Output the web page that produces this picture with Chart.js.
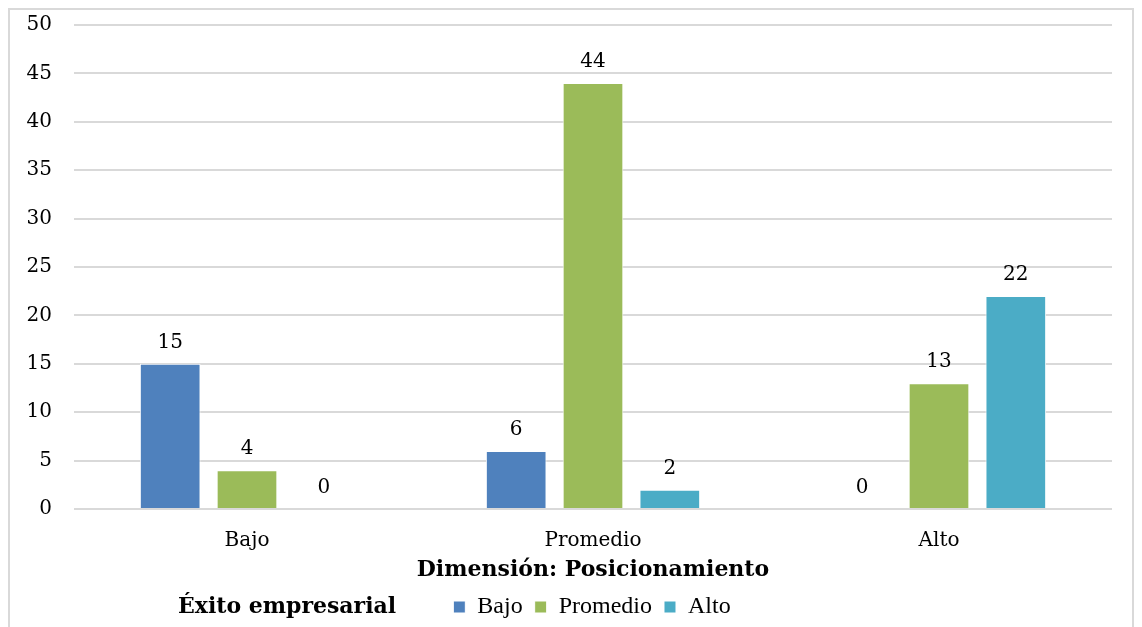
<!DOCTYPE html>
<html><head><meta charset="utf-8">
<script src="https://cdn.jsdelivr.net/npm/chart.js@4/dist/chart.umd.min.js"></script>
<style>
html,body{margin:0;padding:0;background:#fff;overflow:hidden;width:1142px;height:627px}
#box{position:absolute;left:8px;top:8px;width:1126px;height:660px;border:2px solid #d9d9d9;box-sizing:border-box;background:#fff}
#c{display:block;margin-top:-19px}
</style></head><body>
<div id="box"><canvas id="c" width="1122" height="638"></canvas></div>
<script>
const categories = ["Bajo","Promedio","Alto"];
const seriesNames = ["Bajo","Promedio","Alto"];
const bajoValues = [15,6,0];
const promedioValues = [4,44,13];
const altoValues = [0,2,22];
const yTicks = [0,5,10,15,20,25,30,35,40,45,50];
const colors = ["#4f81bd","#9bbb59","#4bacc6"];
const xTitle = "Dimensión: Posicionamiento";
const legendTitle = "Éxito empresarial";

const serif = "'DejaVu Serif', serif";
const times = "'Liberation Serif', serif";

const labelsPlugin = {
  id:'vals',
  afterDatasetsDraw(chart){
    const ctx = chart.ctx;
    ctx.save();
    ctx.font = "20px " + serif;
    ctx.fillStyle = "#000";
    ctx.textAlign = "center";
    ctx.textBaseline = "alphabetic";
    chart.data.datasets.forEach((ds,i)=>{
      chart.getDatasetMeta(i).data.forEach((el,j)=>{
        ctx.fillText(String(ds.data[j]), el.x, el.y - 16);
      });
    });
    ctx.restore();
  }
};
const legendShift = 31;
const legendTitlePlugin = {
  id:'ltitle',
  afterLayout(chart){
    const lg = chart.legend;
    if(lg){ lg.left += legendShift; lg.right += legendShift; }
  },
  afterDraw(chart){
    const lg = chart.legend;
    if(!lg || !lg.legendHitBoxes || !lg.legendHitBoxes.length) return;
    const hb = lg.legendHitBoxes[0];
    const ctx = chart.ctx;
    ctx.save();
    ctx.font = "bold 22px " + serif;
    ctx.fillStyle = "#000";
    ctx.textAlign = "left";
    ctx.textBaseline = "middle";
    ctx.fillText(legendTitle, 168, hb.top + hb.height/2);
    ctx.restore();
  }
};

new Chart(document.getElementById('c'), {
  type:'bar',
  data:{
    labels: categories,
    datasets:[
      {label:seriesNames[0], data:bajoValues, backgroundColor:colors[0], borderColor:'#fff', borderWidth:1},
      {label:seriesNames[1], data:promedioValues, backgroundColor:colors[1], borderColor:'#fff', borderWidth:1},
      {label:seriesNames[2], data:altoValues, backgroundColor:colors[2], borderColor:'#fff', borderWidth:1}
    ]
  },
  options:{
    responsive:false,
    animation:false,
    events:[],
    layout:{padding:{top:0,right:20,left:0,bottom:0}},
    datasets:{bar:{categoryPercentage:0.666,barPercentage:0.79}},
    scales:{
      x:{
        afterFit(s){ s.height = 74; },
        grid:{display:false,drawTicks:false},
        border:{display:false},
        ticks:{font:{family:serif,size:20},color:'#000',padding:20},
        title:{display:true,text:xTitle,font:{family:serif,size:22,weight:'bold'},color:'#000',padding:{top:0,bottom:0}}
      },
      y:{
        min:0,max:50,
        afterFit(s){ s.width = 64; },
        afterBuildTicks(s){ s.ticks = yTicks.map(v=>({value:v})); },
        grid:{color:'#d9d9d9',lineWidth:2,drawTicks:false},
        border:{display:false},
        ticks:{font:{family:serif,size:20},color:'#000',padding:22}
      }
    },
    plugins:{
      legend:{
        position:'bottom',
        labels:{font:{family:times,size:24},color:'#000',boxWidth:12,boxHeight:12,padding:12}
      },
      tooltip:{enabled:false}
    }
  },
  plugins:[labelsPlugin, legendTitlePlugin]
});
</script>
</body></html>
